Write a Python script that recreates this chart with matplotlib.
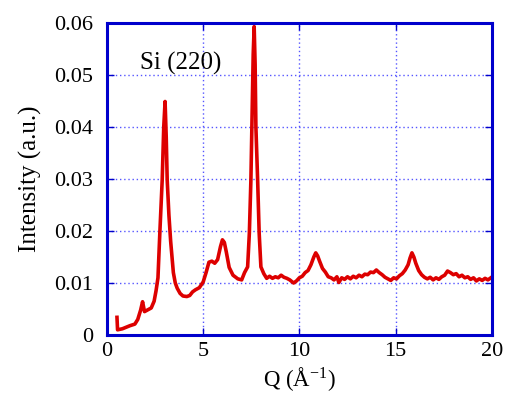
import numpy as np
import matplotlib
matplotlib.use("Agg")
import matplotlib.pyplot as plt

plt.rcParams['font.family'] = ['Liberation Serif', 'DejaVu Serif']
plt.rcParams['mathtext.default'] = 'regular'

# Q (1/A) and intensity
q = [0.52, 0.55, 0.8, 1.0, 1.2, 1.45, 1.6, 1.75, 1.85, 1.95, 2.1, 2.3, 2.45, 2.55,
     2.65, 2.75, 2.87, 2.95, 3.02, 3.08, 3.13, 3.22, 3.31, 3.45, 3.55, 3.65, 3.8,
     3.95, 4.15, 4.3, 4.45, 4.6, 4.8, 5.0, 5.15, 5.3, 5.45, 5.6, 5.75, 5.9, 6.0,
     6.1, 6.2, 6.35, 6.55, 6.8, 7.0, 7.15, 7.31, 7.40, 7.48, 7.53, 7.60, 7.65,
     7.70, 7.74, 7.83, 7.91, 8.0,
     8.15, 8.3, 8.45, 8.6, 8.75, 8.9, 9.05, 9.2, 9.35, 9.5, 9.7, 9.85, 10.0,
     10.15, 10.3, 10.45, 10.6, 10.75, 10.85, 10.95, 11.05, 11.2, 11.35, 11.5,
     11.65, 11.8, 11.95, 12.05, 12.2, 12.35, 12.5, 12.65, 12.8, 12.95, 13.1,
     13.25, 13.4, 13.55, 13.7, 13.85, 14.0, 14.15, 14.3, 14.45, 14.6, 14.75,
     14.9, 15.05, 15.2, 15.35, 15.5, 15.65, 15.75, 15.85, 15.95, 16.05, 16.2,
     16.35, 16.5, 16.65, 16.8, 16.95, 17.1, 17.25, 17.4, 17.55, 17.7, 17.85,
     18.0, 18.15, 18.3, 18.45, 18.6, 18.75, 18.9, 19.05, 19.2, 19.35, 19.5,
     19.65, 19.8, 19.95]
intensity = [0.0034, 0.0010, 0.0012, 0.0015, 0.0018, 0.0021, 0.0030, 0.0048, 0.0064,
             0.0045, 0.0048, 0.0052, 0.0065, 0.0085, 0.0110, 0.0199, 0.0298, 0.0400,
             0.0449, 0.0380, 0.0298, 0.0230, 0.0180, 0.0120, 0.0100, 0.0090, 0.0080,
             0.0075, 0.0074, 0.0076, 0.0083, 0.0087, 0.0091, 0.0102, 0.0120, 0.0140,
             0.0142, 0.0138, 0.0145, 0.0170, 0.0183, 0.0178, 0.0160, 0.0130, 0.0115,
             0.0108, 0.0106, 0.0120, 0.0131, 0.0196, 0.0298, 0.0400, 0.0540, 0.0593,
             0.0520, 0.0400, 0.0298, 0.0196, 0.0131,
             0.0118, 0.0109, 0.0113, 0.0109, 0.0112, 0.0110, 0.0115, 0.0111, 0.0109,
             0.0106, 0.0100, 0.0104, 0.0110, 0.0113, 0.0120, 0.0124, 0.0135, 0.0150,
             0.0158, 0.0152, 0.0142, 0.0128, 0.0121, 0.0112, 0.0110, 0.0106, 0.0112,
             0.0101, 0.0110, 0.0107, 0.0112, 0.0108, 0.0113, 0.0110, 0.0115, 0.0112,
             0.0117, 0.0116, 0.0121, 0.0120, 0.0125, 0.0120, 0.0116, 0.0111, 0.0108,
             0.0105, 0.0110, 0.0108, 0.0114, 0.0118, 0.0125, 0.0135, 0.0148, 0.0158,
             0.0150, 0.0138, 0.0124, 0.0116, 0.0111, 0.0108, 0.0111, 0.0106, 0.0110,
             0.0107, 0.0112, 0.0115, 0.0123, 0.0120, 0.0116, 0.0118, 0.0112, 0.0115,
             0.0110, 0.0112, 0.0107, 0.0110, 0.0104, 0.0108, 0.0105, 0.0109, 0.0106,
             0.0110]

blue = '#0000cc'

fig = plt.figure(figsize=(5.07, 3.96), dpi=100)
ax = fig.add_axes([0.211, 0.154, 0.759, 0.788])

ax.plot(q, intensity, color='#dd0000', lw=2.6, solid_joinstyle='round')

ax.set_xlim(0, 20)
ax.set_ylim(0, 0.06)
ax.set_xticks([0, 5, 10, 15, 20])
ax.set_yticks([0, 0.01, 0.02, 0.03, 0.04, 0.05, 0.06])
ax.set_yticklabels(['0', '0.01', '0.02', '0.03', '0.04', '0.05', '0.06'])

ax.grid(True, color='#5555ff', ls=(0, (1, 2)), lw=1)
for s in ax.spines.values():
    s.set_color(blue)
    s.set_linewidth(2.2)
ax.tick_params(direction='in', color=blue, width=1, length=5,
               top=True, right=True, labelsize=16)
ax.tick_params(axis='x', pad=5)
ax.tick_params(axis='y', pad=10)

ax.set_xlabel('Q (Å$^{-1}$)', fontsize=16.5, labelpad=3)
ax.set_ylabel('Intensity (a.u.)', fontsize=18, labelpad=9)
ax.text(1.7, 0.0523, 'Si (220)', fontsize=18, va='center')

fig.savefig('out.png', dpi=100)
